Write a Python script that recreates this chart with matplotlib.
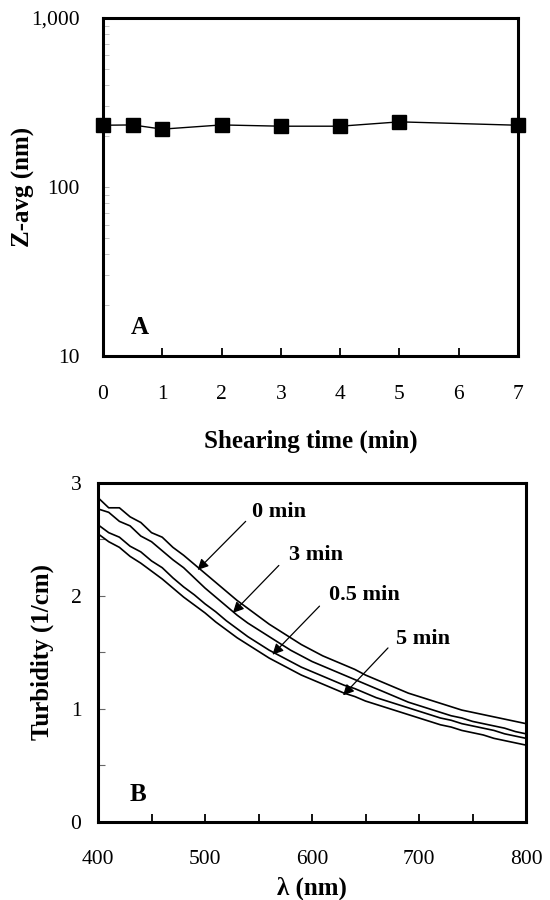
import matplotlib
matplotlib.use("Agg")
import matplotlib.pyplot as plt
import matplotlib.ticker as mticker

plt.rcParams['font.family'] = ['Liberation Serif', 'DejaVu Serif']
plt.rcParams['mathtext.fontset'] = 'stix'

# ---- Panel A data ----
shear_time = [0, 0.5, 1, 2, 3, 4, 5, 7]
z_avg = [232, 233, 220, 233, 229, 229, 243, 232]

# ---- Panel B data ----
wavelength = [400, 410, 420, 430, 440, 450, 460, 470, 480, 490,
              500, 510, 520, 530, 540, 550, 560, 570, 580, 590,
              600, 610, 620, 630, 640, 650, 660, 670, 680, 690,
              700, 710, 720, 730, 740, 750, 760, 770, 780, 790, 800]
turb_0min = [2.87, 2.78, 2.78, 2.70, 2.65, 2.56, 2.52, 2.43, 2.36, 2.28,
             2.20, 2.12, 2.04, 1.96, 1.89, 1.82, 1.75, 1.69, 1.63, 1.57,
             1.52, 1.47, 1.43, 1.39, 1.35, 1.30, 1.26, 1.22, 1.18, 1.14,
             1.11, 1.08, 1.05, 1.02, 0.99, 0.97, 0.95, 0.93, 0.91, 0.89, 0.87]
turb_3min = [2.77, 2.74, 2.66, 2.62, 2.53, 2.48, 2.40, 2.32, 2.25, 2.16,
             2.07, 1.99, 1.91, 1.83, 1.76, 1.70, 1.64, 1.58, 1.52, 1.47,
             1.42, 1.38, 1.34, 1.30, 1.26, 1.22, 1.18, 1.14, 1.10, 1.06,
             1.03, 1.00, 0.97, 0.94, 0.92, 0.89, 0.87, 0.85, 0.83, 0.80, 0.78]
turb_05min = [2.63, 2.56, 2.52, 2.44, 2.39, 2.31, 2.25, 2.16, 2.08, 2.01,
              1.93, 1.86, 1.78, 1.71, 1.64, 1.58, 1.52, 1.47, 1.42, 1.37,
              1.33, 1.29, 1.25, 1.21, 1.18, 1.14, 1.10, 1.07, 1.04, 1.01,
              0.98, 0.95, 0.92, 0.90, 0.87, 0.85, 0.83, 0.81, 0.78, 0.76, 0.74]
turb_5min = [2.55, 2.48, 2.43, 2.35, 2.29, 2.22, 2.15, 2.07, 1.99, 1.92,
             1.85, 1.77, 1.70, 1.63, 1.57, 1.51, 1.45, 1.40, 1.35, 1.30,
             1.26, 1.22, 1.18, 1.14, 1.11, 1.07, 1.04, 1.01, 0.98, 0.95,
             0.92, 0.89, 0.86, 0.84, 0.81, 0.79, 0.77, 0.74, 0.72, 0.70, 0.68]

series_labels = ['0 min', '3 min', '0.5 min', '5 min']
# annotation: (text position, arrow tail, arrow head) in data coordinates
annotations = [
    ((569, 2.74), (538, 2.66), (493, 2.23)),
    ((604, 2.36), (569, 2.27), (526, 1.85)),
    ((649, 2.01), (607, 1.91), (563, 1.48)),
    ((704, 1.62), (671, 1.54), (629, 1.12)),
]

fig = plt.figure(figsize=(5.5, 9), dpi=100)

# ---------------- Panel A ----------------
axA = fig.add_axes([0.1873, 0.6044, 0.7545, 0.3756])
axA.plot(shear_time, z_avg, color='black', lw=1.0, marker='s',
         markersize=10.5, markerfacecolor='black', markeredgecolor='black',
         clip_on=False, zorder=5)
axA.set_yscale('log')
axA.set_ylim(10, 1000)
axA.set_xlim(0, 7)
axA.set_xticks(range(0, 8))
axA.yaxis.set_major_locator(mticker.FixedLocator([10, 100, 1000]))
axA.yaxis.set_major_formatter(mticker.FuncFormatter(lambda v, p: f'{v:,.0f}'))
axA.yaxis.set_minor_locator(mticker.LogLocator(base=10, subs=range(2, 10)))
axA.yaxis.set_minor_formatter(mticker.NullFormatter())
axA.tick_params(axis='x', direction='in', length=6, width=1.3, pad=21,
                labelsize=15.5, top=False)
axA.tick_params(axis='y', which='major', direction='in', length=4, width=0.6,
                color='#aaaaaa', pad=17, labelsize=15.5, right=False)
axA.tick_params(axis='y', which='minor', direction='in', length=4, width=0.6,
                color='#bbbbbb', right=False)
for sp in axA.spines.values():
    sp.set_linewidth(2.2)
axA.set_ylabel('Z-avg (nm)', fontsize=18, fontweight='bold')
axA.yaxis.set_label_coords(-0.164, 0.5)
axA.set_xlabel('Shearing time (min)', fontsize=18, fontweight='bold')
axA.xaxis.set_label_coords(0.5, -0.219)
axA.text(0.089, 0.083, 'A', transform=axA.transAxes, fontsize=18,
         fontweight='bold', ha='center', va='center')

# ---------------- Panel B ----------------
axB = fig.add_axes([0.1782, 0.0867, 0.7782, 0.3767])
for s in [turb_0min, turb_3min, turb_05min, turb_5min]:
    axB.plot(wavelength, s, color='black', lw=1.2)
axB.set_xlim(400, 800)
axB.set_ylim(0, 3)
axB.set_xticks([400, 500, 600, 700, 800])
axB.set_xticks([450, 550, 650, 750], minor=True)
axB.set_yticks([0, 1, 2, 3])
axB.set_yticks([0.5, 1.5, 2.5], minor=True)
axB.tick_params(axis='x', which='both', direction='in', length=6, width=1.3,
                pad=20, labelsize=15.5, top=False)
axB.tick_params(axis='y', which='both', direction='in', length=5, width=0.8,
                color='#666666', pad=12, labelsize=15.5, right=False)
for sp in axB.spines.values():
    sp.set_linewidth(2.2)
axB.set_ylabel('Turbidity (1/cm)', fontsize=18, fontweight='bold')
axB.yaxis.set_label_coords(-0.103, 0.5)
axB.set_xlabel('λ (nm)', fontsize=18, fontweight='bold')
axB.xaxis.set_label_coords(0.5, -0.16)
axB.text(0.093, 0.08, 'B', transform=axB.transAxes, fontsize=18,
         fontweight='bold', ha='center', va='center')

for lab, (tpos, tail, head) in zip(series_labels, annotations):
    axB.text(tpos[0], tpos[1], lab, fontsize=16, fontweight='bold',
             ha='center', va='center')
    axB.annotate('', xy=head, xytext=tail,
                 arrowprops=dict(arrowstyle='-|>', color='black', lw=0.9,
                                 mutation_scale=16, shrinkA=0, shrinkB=0))

fig.savefig('out.png', dpi=100)
